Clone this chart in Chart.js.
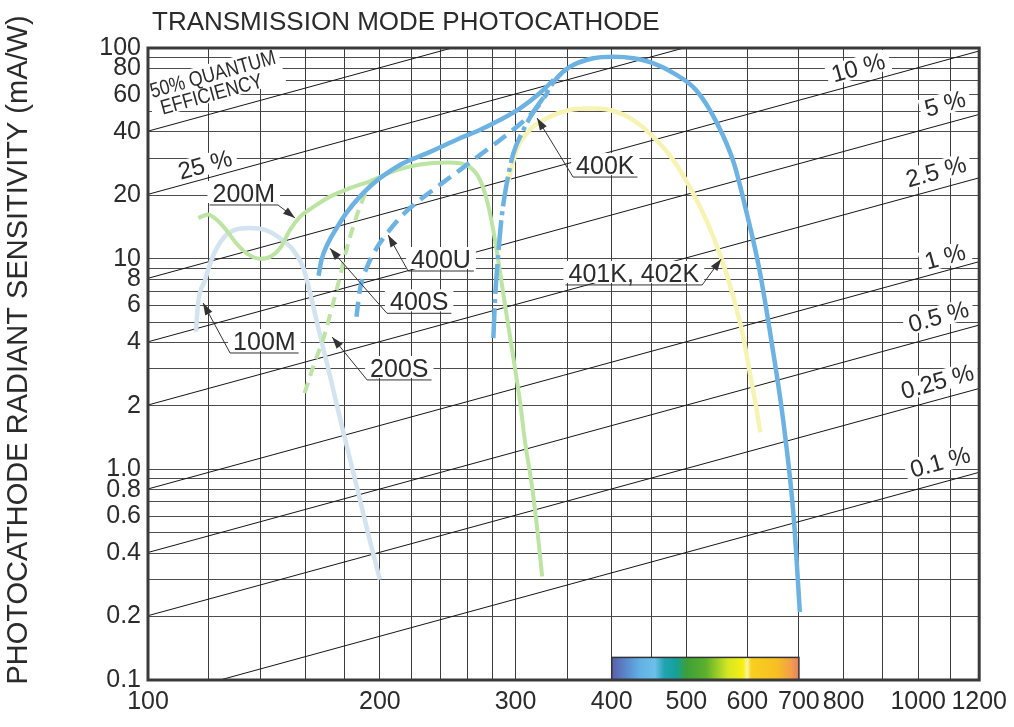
<!DOCTYPE html>
<html>
<head>
<meta charset="utf-8">
<title>Transmission mode photocathode</title>
<script src="https://cdn.jsdelivr.net/npm/chart.js@4.4.1/dist/chart.umd.min.js"></script>
<style>
  html, body { margin: 0; padding: 0; background: #fff; }
  #box { width: 1014px; height: 727px; }
</style>
</head>
<body>
<div id="box"><canvas id="chart"></canvas></div>
<script>
// values: [wavelength nm, sensitivity mA/W]
const curve100M = [[115.4,4.5],[116.2,6.2],[118.6,7.9],[120.9,9.9],[125.2,12.5],[129.7,13.7],[135.6,14.0],[141.9,13.7],[148.4,12.5],[154.3,11.0],[159.0,9.1],[162.3,6.9],[167.2,4.35],[172.3,2.78],[177.5,1.75],[182.9,1.12],[188.4,0.72],[194.1,0.46],[200,0.3]];
const curve200M = [[116.2,15.6],[119.7,16.2],[121.5,15.8],[125.3,14.2],[130.3,11.8],[134.3,10.6],[139.8,10.0],[144,10.2],[148.4,11.2],[152.9,13.7],[157.5,15.8],[164,17.6],[172.3,19.7],[182.9,21.6],[194.1,23.3],[210.3,26.3],[225.4,28],[244.3,28.6],[254,28.4],[261.9,27.2],[269.9,23.6],[276.4,18.0],[281.4,13.0],[285.6,9.3],[290.8,6.0],[297,3.7],[304.2,2.07],[308.8,1.34],[315.2,0.83],[320,0.53],[324.9,0.31]];
const curve200S = [[159.7,2.3],[164,3.1],[169,4.2],[173.4,5.9],[177.5,8.2],[181,11],[184.7,14.2],[188.4,17.6],[192.4,21.1],[196.3,23.5]];
const curve400S = [[166.5,8.3],[168,9.9],[171.2,11.8],[175.8,14.0],[181,16.5],[188.4,19.7],[196.3,22.8],[204.1,25.4],[214.4,28.4],[230,31.6],[254,37.3],[269.6,40.8],[286.2,45.5],[303.8,51.6],[322.5,61],[336.1,70.5]];
const curve400U = [[186.5,5.3],[188.4,7.1],[192.4,9.1],[198.6,11.4],[206,13.7],[214.4,16.2],[225.4,19.0],[239.3,22.4],[254.2,26.4],[269.9,31.1],[286.5,36.6],[304.2,43.6],[318.1,50.8],[330.7,61.8]];
const curve400K = [[280.8,4.2],[282.2,6.4],[285,10.6],[287.9,15.8],[292.3,22.8],[298.1,31.6],[307.2,40.8],[316.5,49.8],[327.9,59.8],[337.8,70.5],[353.2,81.5],[378.7,89.4],[402.2,90.9],[426.9,89.4],[453.3,84.6],[481.1,76],[515,63],[549,43.4],[576,28.6],[600,16],[622,8.9],[646,3.9],[668,1.7],[689,0.6],[702,0.21]];
const curve401K = [[293.3,23],[301,32.8],[313,40.8],[332.3,47.2],[352.8,50.8],[374.4,51.6],[397.5,50.8],[426.5,45.5],[452.6,38],[480.8,29.4],[505.7,21.7],[532.1,14.9],[553.3,10.4],[575.2,6.6],[592.7,4.25],[605.2,2.8],[618,1.85],[623.6,1.5]];

// grid and tick labels
const xGrid = [100,120,140,160,180,200,220,240,260,280,300,350,400,450,500,600,700,800,900,1000,1100,1200];
const xLabels = [100,200,300,400,500,600,700,800,1000,1200];
const yGrid = [0.1,0.2,0.3,0.4,0.5,0.6,0.7,0.8,0.9,1,2,3,4,5,6,7,8,9,10,20,30,40,50,60,70,80,90,100];
const yLabels = [0.1,0.2,0.4,0.6,0.8,1,2,4,6,8,10,20,40,60,80,100];

// quantum efficiency guide lines (ends where they meet the frame)
const qeNames = ['50% QUANTUM|EFFICIENCY','25 %','10 %','5 %','2.5 %','1 %','0.5 %','0.25 %','0.1 %'];
const qeStart = [[100,40.3],[100,20.2],[100,8.07],[100,4.03],[100,2.02],[100,0.807],[100,0.403],[100,0.202],[124,0.1]];
const qeEnd = [[248,100],[496,100],[1200,96.8],[1200,48.4],[1200,24.2],[1200,9.68],[1200,4.84],[1200,2.42],[1200,0.968]];
const qeTextAt = [[121.5,74.4],[118.6,27.8],[836,80.4],[1084,54.2],[1055,25.8],[1084,10.2],[1063,5.29],[1059,2.6],[1068,1.08]];

// curve call-outs: name and the point the arrow touches
const noteText = ['200M','100M','400S','400U','200S','400K','401K, 402K'];
const noteTip = [[155.2,15.6],[117.9,6.16],[172.3,11.2],[205,12.95],[173.4,4.25],[320,46.5],[554.9,9.97]];

// visible spectrum strip along the bottom
const spectrumNm = [400,420,435,455,468,485,500,530,566,592,600,607,655,683,700];
const spectrumColor = ['#5a5ea8','#5a8fd0','#62b0e4','#6cc0ea','#22a4b0','#14a09a','#3ca038','#5cb02c','#d6e624','#f6ef12','#fff6a0','#f9cf20','#f7bf22','#f2a04a','#e8805e'];

const FONT = '"Liberation Sans", Arial, Helvetica, sans-serif';
const INK = '#2b2b2b';
const QE_ANGLE = -0.27;

// elbow offset from the arrow tip (px) and which way the underline runs
const noteLayout = [[-17,-13,'L'],[27,50,'R'],[57,65,'R'],[20,36,'R'],[35,43,'R'],[36,59,'R'],[-19,26,'L']];

const toXY = arr => arr.map(([x, y]) => ({x, y}));

function curve(label, data, color, width, dash) {
  return {
    label, data: toXY(data), borderColor: color, borderWidth: width,
    borderDash: dash || [], pointRadius: 0, fill: false,
    cubicInterpolationMode: 'monotone'
  };
}

const BLUE = '#6cb2e2', GREEN = '#bce4a3', PALEBLUE = '#d3e3f0', YELLOW = '#f7f3b2';

const ds400K = curve('400K', curve400K, BLUE, 4.5);
ds400K.segment = { borderDash: c => c.p1.parsed.x <= 338 ? [30, 5, 4, 5] : [] };

const datasets = [
  ds400K,
  curve('400S', curve400S, BLUE, 4.5),
  curve('400U', curve400U, BLUE, 4.5, [15, 8]),
  curve('401K, 402K', curve401K, YELLOW, 4.5),
  curve('200M', curve200M, GREEN, 4),
  curve('200S', curve200S, GREEN, 4, [11, 7]),
  curve('100M', curve100M, PALEBLUE, 4.5)
];
qeStart.forEach((s, i) => {
  datasets.push({
    label: qeNames[i], data: toXY([s, qeEnd[i]]),
    borderColor: '#151515', borderWidth: 1, pointRadius: 0, fill: false
  });
});

function textBox(ctx, x, y, w, h) {
  ctx.fillStyle = '#fff';
  ctx.fillRect(x, y, w, h);
}

const overlay = {
  id: 'overlay',
  beforeDatasetsDraw(chart) {
    const {ctx, scales: {x, y}} = chart;
    const x0 = x.getPixelForValue(spectrumNm[0]);
    const x1 = x.getPixelForValue(spectrumNm[spectrumNm.length - 1]);
    const top = y.getPixelForValue(0.128), bot = y.getPixelForValue(0.1);
    const g = ctx.createLinearGradient(x0, 0, x1, 0);
    spectrumNm.forEach((w, i) => g.addColorStop((x.getPixelForValue(w) - x0) / (x1 - x0), spectrumColor[i]));
    ctx.save();
    ctx.fillStyle = g;
    ctx.fillRect(x0, top, x1 - x0, bot - top);
    ctx.strokeStyle = '#333';
    ctx.lineWidth = 1.5;
    ctx.strokeRect(x0, top, x1 - x0, bot - top);
    ctx.restore();
  },
  afterDatasetsDraw(chart) {
    const {ctx, chartArea: a, scales: {x, y}} = chart;
    ctx.save();

    // efficiency labels, tilted along the guide lines
    qeNames.forEach((name, i) => {
      const px = x.getPixelForValue(qeTextAt[i][0]);
      const py = y.getPixelForValue(qeTextAt[i][1]);
      ctx.save();
      ctx.translate(px, py);
      ctx.rotate(QE_ANGLE);
      ctx.textAlign = 'center';
      ctx.textBaseline = 'middle';
      if (name.includes('|')) {
        const [l1, l2] = name.split('|');
        ctx.font = '21px ' + FONT;
        const w = ctx.measureText(l1).width * 0.84;
        textBox(ctx, -w / 2 - 4, -12, w + 8, 38);
        ctx.fillStyle = INK;
        ctx.scale(0.84, 1);
        ctx.fillText(l1, 0, 0);
        ctx.fillText(l2, -8, 19);
      } else {
        ctx.font = '24px ' + FONT;
        const w = ctx.measureText(name).width;
        textBox(ctx, -w / 2 - 5, -11, w + 10, 21);
        ctx.fillStyle = INK;
        ctx.fillText(name, 0, 1);
      }
      ctx.restore();
    });

    // call-outs with underline and arrow
    ctx.font = '25px ' + FONT;
    noteText.forEach((t, i) => {
      const tx = x.getPixelForValue(noteTip[i][0]);
      const ty = y.getPixelForValue(noteTip[i][1]);
      const [dx, dy, side] = noteLayout[i];
      const ex = tx + dx, ey = ty + dy;
      const w = ctx.measureText(t).width;
      const ux0 = side === 'L' ? ex - w - 6 : ex;
      const ux1 = ux0 + w + 6;
      textBox(ctx, ux0 - 2, ey - 24, w + 10, 22);
      ctx.fillStyle = INK;
      ctx.textAlign = 'center';
      ctx.textBaseline = 'alphabetic';
      ctx.fillText(t, (ux0 + ux1) / 2, ey - 3);
      ctx.strokeStyle = '#333';
      ctx.lineWidth = 1;
      ctx.beginPath();
      ctx.moveTo(ux0, ey);
      ctx.lineTo(ux1, ey);
      ctx.moveTo(ex, ey);
      ctx.lineTo(tx, ty);
      ctx.stroke();
      const ang = Math.atan2(ty - ey, tx - ex);
      ctx.fillStyle = '#333';
      ctx.beginPath();
      ctx.moveTo(tx, ty);
      ctx.lineTo(tx - 12 * Math.cos(ang) + 4 * Math.sin(ang), ty - 12 * Math.sin(ang) - 4 * Math.cos(ang));
      ctx.lineTo(tx - 12 * Math.cos(ang) - 4 * Math.sin(ang), ty - 12 * Math.sin(ang) + 4 * Math.cos(ang));
      ctx.closePath();
      ctx.fill();
    });

    // heavy frame
    ctx.strokeStyle = '#3a3a3a';
    ctx.lineWidth = 3;
    ctx.strokeRect(a.left, a.top, a.right - a.left, a.bottom - a.top);
    ctx.restore();
  },
  afterDraw(chart) {
    const {ctx, chartArea: a} = chart;
    ctx.save();
    ctx.fillStyle = INK;
    ctx.font = '26px ' + FONT;
    ctx.textAlign = 'left';
    ctx.textBaseline = 'alphabetic';
    ctx.fillText('TRANSMISSION MODE PHOTOCATHODE', a.left + 4, 30);
    ctx.font = '29px ' + FONT;
    ctx.translate(19, 350);
    ctx.rotate(-Math.PI / 2);
    ctx.textAlign = 'center';
    ctx.textBaseline = 'middle';
    ctx.fillText('PHOTOCATHODE RADIANT SENSITIVITY (mA/W)', 0, 0);
    ctx.restore();
  }
};

const fmtY = v => v < 1 ? v.toFixed(1) : (v === 1 ? '1.0' : String(v));

new Chart(document.getElementById('chart'), {
  type: 'line',
  data: { datasets },
  plugins: [overlay],
  options: {
    responsive: true,
    maintainAspectRatio: false,
    animation: false,
    devicePixelRatio: 1,
    events: [],
    layout: { padding: { top: 48, right: 34, left: 0, bottom: 0 } },
    plugins: { legend: { display: false }, tooltip: { enabled: false } },
    scales: {
      x: {
        type: 'logarithmic', min: 100, max: 1200,
        afterBuildTicks: s => { s.ticks = xGrid.map(v => ({ value: v })); },
        afterFit: s => { s.height = 47; },
        border: { display: false },
        grid: { color: '#3c3c3c', lineWidth: 1, drawTicks: false },
        ticks: {
          autoSkip: false, maxRotation: 0, minRotation: 0, padding: 7,
          color: INK, font: { family: FONT, size: 25 },
          callback: v => xLabels.includes(v) ? String(v) : ''
        }
      },
      y: {
        type: 'logarithmic', min: 0.1, max: 100,
        afterBuildTicks: s => { s.ticks = yGrid.map(v => ({ value: v })); },
        afterFit: s => { s.width = 148; },
        border: { display: false },
        grid: { color: '#4c4c4c', lineWidth: 1, drawTicks: false },
        ticks: {
          autoSkip: false, padding: 7,
          color: INK, font: { family: FONT, size: 25 },
          callback: v => yLabels.includes(v) ? fmtY(v) : ''
        }
      }
    }
  }
});
</script>
</body>
</html>
